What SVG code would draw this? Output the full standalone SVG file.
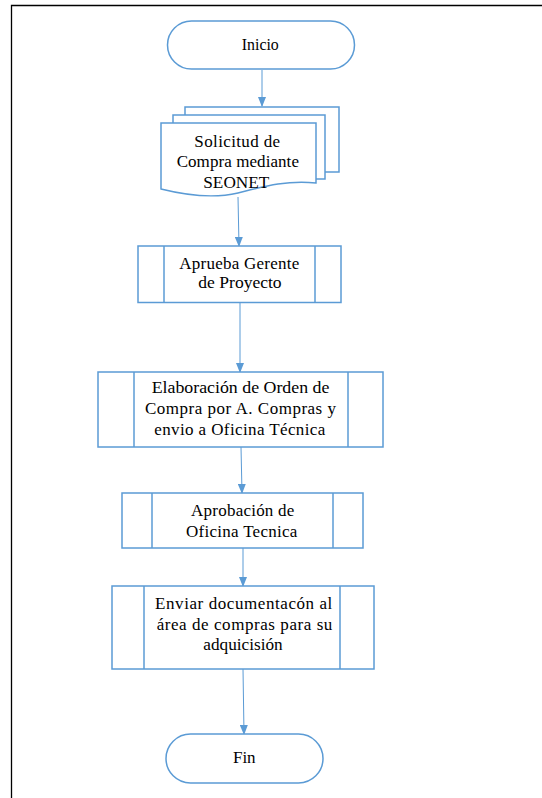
<svg xmlns="http://www.w3.org/2000/svg" width="542" height="798" viewBox="0 0 542 798">
<defs>
<style>
.s{fill:#fff;stroke:#5B9BD5;stroke-width:1.5}
.c{fill:none;stroke:#5B9BD5;stroke-width:1}
.t{font-family:'Liberation Serif','Times New Roman',serif;font-size:17px;fill:#000;text-anchor:middle}
</style>
<marker id="ah" markerWidth="10" markerHeight="8" refX="9" refY="4" orient="auto" markerUnits="userSpaceOnUse">
<path d="M0,0 L10,4 L0,8 Z" fill="#5B9BD5"/>
</marker>
</defs>
<rect width="542" height="798" fill="#fff"/>
<path d="M11.5,798 V5.5 H542" fill="none" stroke="#000" stroke-width="1.3"/>
<g id="connectors">
<line class="c" x1="262" y1="70" x2="262" y2="106" marker-end="url(#ah)"/>
<line class="c" x1="238" y1="197" x2="239" y2="246" marker-end="url(#ah)"/>
<line class="c" x1="240" y1="303" x2="240" y2="372" marker-end="url(#ah)"/>
<line class="c" x1="241" y1="447" x2="242" y2="493" marker-end="url(#ah)"/>
<line class="c" x1="243" y1="548" x2="243" y2="586" marker-end="url(#ah)"/>
<line class="c" x1="243" y1="669" x2="244" y2="734" marker-end="url(#ah)"/>
</g>
<g id="inicio">
<rect class="s" x="167.5" y="21" width="187" height="48" rx="24"/>
<text class="t" x="260.3" y="50" textLength="37" lengthAdjust="spacingAndGlyphs">Inicio</text>
</g>
<g id="solicitud">
<path class="s" d="M185,107 H339 V172 H185 Z"/>
<path class="s" d="M173,115 H325 V179 H173 Z"/>
<path class="s" d="M161,123 H316 V183 C285,180 262,187 238,193 C212,199 185,195 161,189 Z"/>
<text class="t" x="237.2" y="146.5" textLength="85.7" lengthAdjust="spacing">Solicitud de</text>
<text class="t" x="237.8" y="167.3" textLength="122.3" lengthAdjust="spacing">Compra mediante</text>
<text class="t" x="236.3" y="187.7" textLength="66" lengthAdjust="spacingAndGlyphs">SEONET</text>
</g>
<g id="aprueba">
<rect class="s" x="138" y="246" width="203" height="56.5"/>
<line class="s" x1="164" y1="246" x2="164" y2="302.5"/>
<line class="s" x1="315" y1="246" x2="315" y2="302.5"/>
<text class="t" x="239.3" y="268.5" textLength="120" lengthAdjust="spacing">Aprueba Gerente</text>
<text class="t" x="240" y="287.5" textLength="83.3" lengthAdjust="spacingAndGlyphs">de Proyecto</text>
</g>
<g id="elaboracion">
<rect class="s" x="98" y="372" width="285" height="75"/>
<line class="s" x1="134" y1="372" x2="134" y2="447"/>
<line class="s" x1="348" y1="372" x2="348" y2="447"/>
<text class="t" x="240.5" y="393.3" textLength="177.7" lengthAdjust="spacingAndGlyphs">Elaboración  de Orden de</text>
<text class="t" x="240.5" y="414" textLength="191" lengthAdjust="spacing">Compra por A. Compras y</text>
<text class="t" x="239.8" y="435" textLength="171" lengthAdjust="spacing">envio a Oficina Técnica</text>
</g>
<g id="aprobacion">
<rect class="s" x="122" y="493" width="241" height="55"/>
<line class="s" x1="152" y1="493" x2="152" y2="548"/>
<line class="s" x1="333" y1="493" x2="333" y2="548"/>
<text class="t" x="242.7" y="516" textLength="103.3" lengthAdjust="spacing">Aprobación de</text>
<text class="t" x="241.7" y="536.7" textLength="111.3" lengthAdjust="spacing">Oficina Tecnica</text>
</g>
<g id="enviar">
<rect class="s" x="112" y="586" width="262" height="83"/>
<line class="s" x1="144" y1="586" x2="144" y2="669"/>
<line class="s" x1="340" y1="586" x2="340" y2="669"/>
<text class="t" x="243.7" y="609.3" textLength="177.3" lengthAdjust="spacing">Enviar documentacón al</text>
<text class="t" x="244.5" y="630" textLength="175.7" lengthAdjust="spacing">área de compras para su</text>
<text class="t" x="243" y="650" textLength="79.3" lengthAdjust="spacingAndGlyphs">adquicisión</text>
</g>
<g id="fin">
<rect class="s" x="166" y="734" width="157" height="49" rx="24.5"/>
<text class="t" x="244.3" y="763.3" textLength="22.7" lengthAdjust="spacingAndGlyphs">Fin</text>
</g>
</svg>
